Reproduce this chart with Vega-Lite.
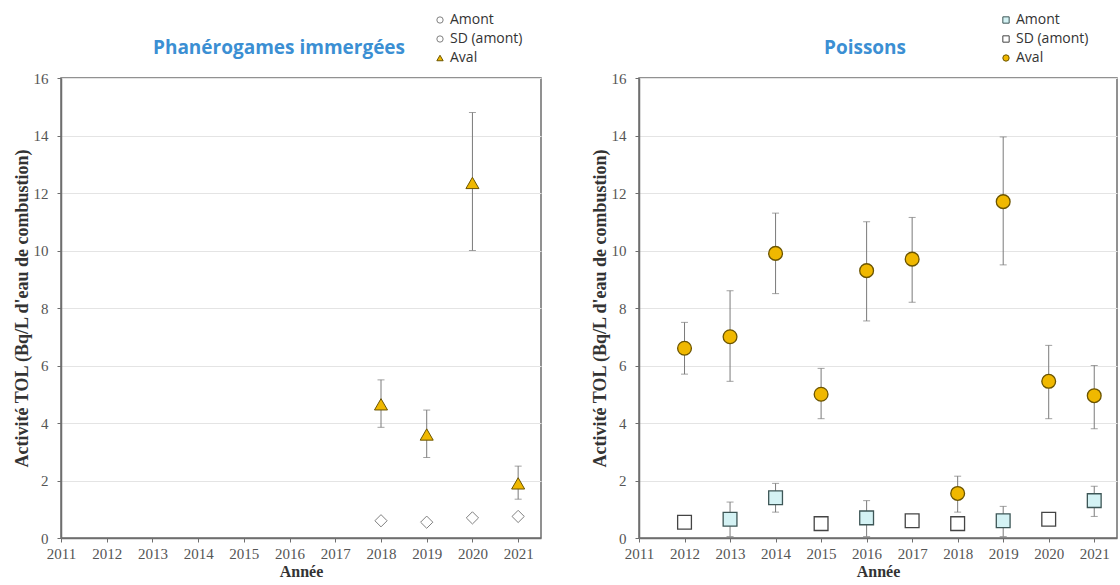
{
  "$schema": "https://vega.github.io/schema/vega-lite/v6.json",
  "background": "white",
  "padding": {"left": 12, "top": 12, "right": 0, "bottom": 0},
  "spacing": 48,
  "datasets": {
    "phan": [
      {"annee": 2018, "serie": "Aval", "val": 4.65, "lo": 3.85, "hi": 5.5},
      {"annee": 2019, "serie": "Aval", "val": 3.6, "lo": 2.8, "hi": 4.45},
      {"annee": 2020, "serie": "Aval", "val": 12.35, "lo": 10.0, "hi": 14.8},
      {"annee": 2021, "serie": "Aval", "val": 1.9, "lo": 1.35, "hi": 2.5},
      {"annee": 2018, "serie": "SD (amont)", "val": 0.6, "lo": null, "hi": null},
      {"annee": 2019, "serie": "SD (amont)", "val": 0.55, "lo": null, "hi": null},
      {"annee": 2020, "serie": "SD (amont)", "val": 0.7, "lo": null, "hi": null},
      {"annee": 2021, "serie": "SD (amont)", "val": 0.75, "lo": null, "hi": null}
    ],
    "pois": [
      {"annee": 2012, "serie": "Aval", "val": 6.6, "lo": 5.7, "hi": 7.5},
      {"annee": 2013, "serie": "Aval", "val": 7.0, "lo": 5.45, "hi": 8.6},
      {"annee": 2014, "serie": "Aval", "val": 9.9, "lo": 8.5, "hi": 11.3},
      {"annee": 2015, "serie": "Aval", "val": 5.0, "lo": 4.15, "hi": 5.9},
      {"annee": 2016, "serie": "Aval", "val": 9.3, "lo": 7.55, "hi": 11.0},
      {"annee": 2017, "serie": "Aval", "val": 9.7, "lo": 8.2, "hi": 11.15},
      {"annee": 2018, "serie": "Aval", "val": 1.55, "lo": 0.9, "hi": 2.15},
      {"annee": 2019, "serie": "Aval", "val": 11.7, "lo": 9.5, "hi": 13.95},
      {"annee": 2020, "serie": "Aval", "val": 5.45, "lo": 4.15, "hi": 6.7},
      {"annee": 2021, "serie": "Aval", "val": 4.95, "lo": 3.8, "hi": 6.0},
      {"annee": 2013, "serie": "Amont", "val": 0.65, "lo": 0.05, "hi": 1.25},
      {"annee": 2014, "serie": "Amont", "val": 1.4, "lo": 0.9, "hi": 1.9},
      {"annee": 2016, "serie": "Amont", "val": 0.7, "lo": 0.05, "hi": 1.3},
      {"annee": 2019, "serie": "Amont", "val": 0.6, "lo": 0.05, "hi": 1.1},
      {"annee": 2021, "serie": "Amont", "val": 1.3, "lo": 0.75, "hi": 1.8},
      {"annee": 2012, "serie": "SD (amont)", "val": 0.55, "lo": null, "hi": null},
      {"annee": 2015, "serie": "SD (amont)", "val": 0.5, "lo": null, "hi": null},
      {"annee": 2017, "serie": "SD (amont)", "val": 0.6, "lo": null, "hi": null},
      {"annee": 2018, "serie": "SD (amont)", "val": 0.5, "lo": null, "hi": null},
      {"annee": 2020, "serie": "SD (amont)", "val": 0.65, "lo": null, "hi": null}
    ]
  },
  "config": {
    "view": {"stroke": "#6e6e6e", "strokeWidth": 1.5},
    "axis": {
      "labelFont": "Liberation Serif", "labelFontSize": 15, "labelColor": "#555555", "labelFlush": false,
      "titleFont": "Liberation Serif", "titleFontWeight": "bold", "titleColor": "#333333",
      "domainColor": "#6e6e6e", "domainWidth": 1.5, "tickColor": "#6e6e6e", "tickSize": 4,
      "gridColor": "#e4e4e4"
    },
    "legend": {
      "labelFont": "Open Sans", "labelFontSize": 14, "labelColor": "#333333",
      "symbolSize": 40, "rowPadding": 5, "labelOffset": 3, "symbolStrokeWidth": 1, "padding": 0
    },
    "title": {"color": "#3b8fd3", "font": "Open Sans", "fontSize": 19, "fontWeight": "bold", "anchor": "middle", "offset": -45}
  },
  "resolve": {
    "scale": {"shape": "independent", "fill": "independent", "stroke": "independent"},
    "legend": {"shape": "independent", "fill": "independent", "stroke": "independent"}
  },
  "hconcat": [
    {
      "width": 480, "height": 460,
      "title": {"text": "Phanérogames immergées", "dx": -22},
      "data": {"name": "phan"},
      "layer": [
        {
          "mark": {"type": "rule", "color": "#7a7a7a", "strokeWidth": 1},
          "encoding": {
            "x": {"field": "annee", "type": "quantitative", "scale": {"domain": [2011, 2021.5], "nice": false},
              "axis": {"title": "Année", "values": [2011, 2012, 2013, 2014, 2015, 2016, 2017, 2018, 2019, 2020, 2021], "format": "d", "grid": false, "titleFontSize": 16, "titlePadding": 2, "labelPadding": 4}},
            "y": {"field": "lo", "type": "quantitative", "scale": {"domain": [0, 16], "nice": false},
              "axis": {"title": "Activité TOL (Bq/L d'eau de combustion)", "values": [0, 2, 4, 6, 8, 10, 12, 14, 16], "grid": true, "titleFontSize": 18, "titlePadding": 2, "labelPadding": 9}},
            "y2": {"field": "hi"}
          }
        },
        {
          "mark": {"type": "tick", "orient": "horizontal", "size": 7, "thickness": 1, "color": "#7a7a7a"},
          "encoding": {"x": {"field": "annee", "type": "quantitative"}, "y": {"field": "lo", "type": "quantitative"}}
        },
        {
          "mark": {"type": "tick", "orient": "horizontal", "size": 7, "thickness": 1, "color": "#7a7a7a"},
          "encoding": {"x": {"field": "annee", "type": "quantitative"}, "y": {"field": "hi", "type": "quantitative"}}
        },
        {
          "transform": [{"filter": "datum.serie === 'SD (amont)'"}],
          "mark": {"type": "point", "shape": "diamond", "filled": true, "opacity": 1, "size": 150, "strokeWidth": 1},
          "encoding": {
            "x": {"field": "annee", "type": "quantitative"},
            "y": {"field": "val", "type": "quantitative"},
            "fill": {"field": "serie", "type": "nominal", "scale": {"domain": ["Amont", "SD (amont)", "Aval"], "range": ["#ffffff", "#ffffff", "#f0b800"]}},
            "stroke": {"field": "serie", "type": "nominal", "scale": {"domain": ["Amont", "SD (amont)", "Aval"], "range": ["#808080", "#808080", "#6b5400"]}}
          }
        },
        {
          "transform": [{"filter": "datum.serie === 'Aval'"}],
          "mark": {"type": "point", "filled": true, "opacity": 1, "size": 170, "strokeWidth": 1},
          "encoding": {
            "x": {"field": "annee", "type": "quantitative"},
            "y": {"field": "val", "type": "quantitative"},
            "shape": {"field": "serie", "type": "nominal", "scale": {"domain": ["Amont", "SD (amont)", "Aval"], "range": ["circle", "circle", "triangle-up"]},
              "legend": {"title": null, "orient": "none", "legendX": 372, "legendY": -65}},
            "fill": {"field": "serie", "type": "nominal"},
            "stroke": {"field": "serie", "type": "nominal"}
          }
        }
      ]
    },
    {
      "width": 478, "height": 460,
      "title": {"text": "Poissons", "dx": -13},
      "data": {"name": "pois"},
      "layer": [
        {
          "mark": {"type": "rule", "color": "#7a7a7a", "strokeWidth": 1},
          "encoding": {
            "x": {"field": "annee", "type": "quantitative", "scale": {"domain": [2011, 2021.5], "nice": false},
              "axis": {"title": "Année", "values": [2011, 2012, 2013, 2014, 2015, 2016, 2017, 2018, 2019, 2020, 2021], "format": "d", "grid": false, "titleFontSize": 16, "titlePadding": 2, "labelPadding": 4}},
            "y": {"field": "lo", "type": "quantitative", "scale": {"domain": [0, 16], "nice": false},
              "axis": {"title": "Activité TOL (Bq/L d'eau de combustion)", "values": [0, 2, 4, 6, 8, 10, 12, 14, 16], "grid": true, "titleFontSize": 18, "titlePadding": 2, "labelPadding": 9}},
            "y2": {"field": "hi"}
          }
        },
        {
          "mark": {"type": "tick", "orient": "horizontal", "size": 7, "thickness": 1, "color": "#7a7a7a"},
          "encoding": {"x": {"field": "annee", "type": "quantitative"}, "y": {"field": "lo", "type": "quantitative"}}
        },
        {
          "mark": {"type": "tick", "orient": "horizontal", "size": 7, "thickness": 1, "color": "#7a7a7a"},
          "encoding": {"x": {"field": "annee", "type": "quantitative"}, "y": {"field": "hi", "type": "quantitative"}}
        },
        {
          "mark": {"type": "point", "filled": true, "opacity": 1, "size": 190, "strokeWidth": 1.3},
          "encoding": {
            "x": {"field": "annee", "type": "quantitative"},
            "y": {"field": "val", "type": "quantitative"},
            "shape": {"field": "serie", "type": "nominal", "scale": {"domain": ["Amont", "SD (amont)", "Aval"], "range": ["square", "square", "circle"]},
              "legend": {"title": null, "orient": "none", "legendX": 360, "legendY": -65}},
            "fill": {"field": "serie", "type": "nominal", "scale": {"domain": ["Amont", "SD (amont)", "Aval"], "range": ["#d4f2f4", "#ffffff", "#f0b800"]}},
            "stroke": {"field": "serie", "type": "nominal", "scale": {"domain": ["Amont", "SD (amont)", "Aval"], "range": ["#3d5656", "#444444", "#6b5400"]}}
          }
        }
      ]
    }
  ]
}
